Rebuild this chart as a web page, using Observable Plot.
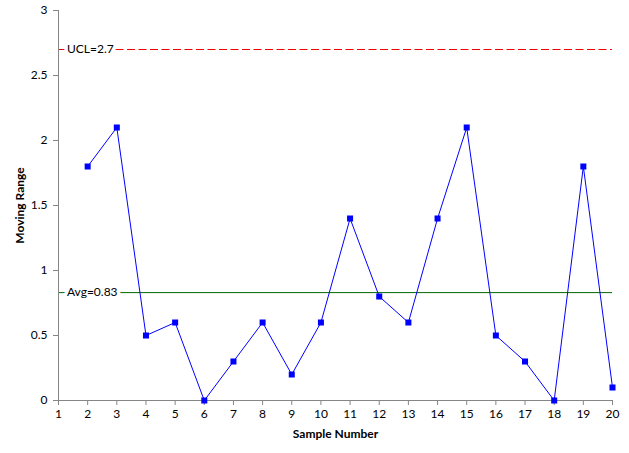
<!DOCTYPE html>
<html><head><meta charset="utf-8">
<script src="https://cdn.jsdelivr.net/npm/d3@7"></script>
<script src="https://cdn.jsdelivr.net/npm/@observablehq/plot@0.6"></script>
<style>body{margin:0;background:#fff}</style>
</head><body><div id="chart"></div>
<script>
const samples = [2,3,4,5,6,7,8,9,10,11,12,13,14,15,16,17,18,19,20];
const ranges = [1.8,2.1,0.5,0.6,0.0,0.3,0.6,0.2,0.6,1.4,0.8,0.6,1.4,2.1,0.5,0.3,0.0,1.8,0.1];
const xTicks = d3.range(1,21);
const yTicks = [0,0.5,1,1.5,2,2.5,3];
const ucl = 2.7, avg = 0.83;
const ucLabel = "UCL=2.7", avgLabel = "Avg=0.83";
const data = samples.map((s,i)=>({x:s,y:ranges[i]}));
const font = "Lato, 'Open Sans', sans-serif";
const chart = Plot.plot({
  width:629, height:453,
  marginLeft:58, marginRight:17, marginTop:10, marginBottom:53,
  style:{fontFamily:font, fontSize:"12px", color:"#000", background:"#fff"},
  x:{domain:[1,20], ticks:xTicks, tickSize:5, tickFormat:d=>String(d), label:null},
  y:{domain:[0,3], ticks:yTicks, tickSize:5, tickFormat:d=>String(d), label:null},
  marks:[
    Plot.ruleY([ucl],{x1:1,x2:20,stroke:"#f00000",strokeDasharray:"8,3.5",strokeWidth:1}),
    Plot.ruleY([avg],{x1:1,x2:20,stroke:"#006a00",strokeWidth:1}),
    Plot.text([ucLabel],{x:1.29,y:ucl,text:d=>d,textAnchor:"start",fill:"#000",stroke:"white",strokeWidth:7,fontSize:12}),
    Plot.text([avgLabel],{x:1.29,y:avg,text:d=>d,textAnchor:"start",fill:"#000",stroke:"white",strokeWidth:7,fontSize:12}),
    Plot.axisX({ticks:xTicks,tickSize:5,tickPadding:4,stroke:"#868686",tickFormat:d=>String(d),label:null,fontSize:12}),
    Plot.axisY({ticks:yTicks,tickSize:5,tickPadding:6,stroke:"#868686",tickFormat:d=>String(d),label:null,fontSize:12}),
    Plot.ruleX([1],{stroke:"#868686"}),
    Plot.ruleY([0],{stroke:"#868686"}),
    Plot.line(data,{x:"x",y:"y",stroke:"#0000ff",strokeWidth:1}),
    Plot.dot(data,{x:"x",y:"y",symbol:"square",r:3.4,fill:"#0000ff",stroke:"none"}),
    Plot.text(["Sample Number"],{frameAnchor:"bottom",dy:37,text:d=>d,fontWeight:"bold",fontSize:12}),
    Plot.text(["Moving Range"],{frameAnchor:"left",dx:-38,rotate:-90,textAnchor:"middle",text:d=>d,fontWeight:"bold",fontSize:12})
  ]
});
document.getElementById("chart").appendChild(chart);
</script></body></html>
